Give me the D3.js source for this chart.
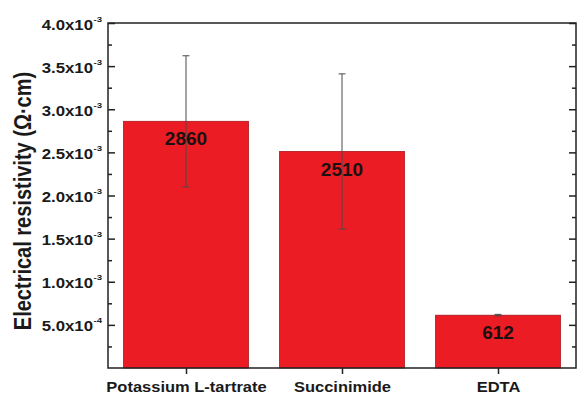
<!DOCTYPE html>
<html>
<head>
<meta charset="utf-8">
<script src="https://cdn.jsdelivr.net/npm/d3@7"></script>
<style>
  html, body { margin: 0; padding: 0; background: #fff; }
  svg { display: block; }
  text { font-family: "Liberation Sans", Arial, sans-serif; font-weight: bold; }
</style>
</head>
<body>
<svg id="chart" width="577" height="395"></svg>
<script>
// Resistivity per complexing agent (Ω·cm)
const categories = ["Potassium L-tartrate", "Succinimide", "EDTA"];
const resistivity = [2.86e-3, 2.51e-3, 0.612e-3];
const valueLabels = ["2860", "2510", "612"];
const errLow = [2.10e-3, 1.61e-3, 0.605e-3];
const errHigh = [3.62e-3, 3.41e-3, 0.622e-3];

// Y axis ticks: value, mantissa and exponent for the "m x10^e" labels
const yTicks = [5e-4, 1e-3, 1.5e-3, 2e-3, 2.5e-3, 3e-3, 3.5e-3, 4e-3];
const yMantissa = ["5.0", "1.0", "1.5", "2.0", "2.5", "3.0", "3.5", "4.0"];
const yExponent = ["-4", "-3", "-3", "-3", "-3", "-3", "-3", "-3"];
const yMinorTicks = [2.5e-4, 7.5e-4, 1.25e-3, 1.75e-3, 2.25e-3, 2.75e-3, 3.25e-3, 3.75e-3];

const yTitle = "Electrical resistivity (Ω·cm)";

const svg = d3.select("#chart");
const plotL = 108, plotR = 576, plotT = 23, plotB = 368;

const x = d3.scaleLinear().domain([0.5, 3.5]).range([plotL, plotR]);
const y = d3.scaleLinear().domain([0, 4e-3]).range([plotB, plotT]);
const barW = x(1.4) - x(0.6);

// Bars
svg.append("g").selectAll("rect")
  .data(resistivity)
  .join("rect")
  .attr("x", (d, i) => x(i + 1) - barW / 2)
  .attr("y", d => y(d))
  .attr("width", barW)
  .attr("height", d => y(0) - y(d))
  .attr("fill", "#ec1c24")
  .attr("stroke", "#a8131a")
  .attr("stroke-width", 0.8);

// Error bars
const eg = svg.append("g").attr("stroke", "#4a4a4a").attr("stroke-width", 1);
categories.forEach((c, i) => {
  const cx = x(i + 1);
  eg.append("line").attr("x1", cx).attr("x2", cx).attr("y1", y(errLow[i])).attr("y2", y(errHigh[i]));
  [errLow[i], errHigh[i]].forEach(v => {
    eg.append("line").attr("x1", cx - 3.5).attr("x2", cx + 3.5).attr("y1", y(v)).attr("y2", y(v));
  });
});

// Value labels inside the bars
svg.append("g").selectAll("text")
  .data(valueLabels)
  .join("text")
  .attr("x", (d, i) => x(i + 1))
  .attr("y", (d, i) => y(resistivity[i]) + 24)
  .attr("text-anchor", "middle")
  .attr("font-size", 19)
  .attr("fill", "#1c1010")
  .text(d => d);

// Inward ticks on the left and right frame edges
function yTicksAxis(axisFn, xPos, major, minor) {
  svg.append("g").attr("transform", `translate(${xPos},0)`)
    .call(axisFn(y).tickValues(yTicks).tickSize(major).tickFormat(""))
    .call(g => g.select(".domain").remove());
  svg.append("g").attr("transform", `translate(${xPos},0)`)
    .call(axisFn(y).tickValues(yMinorTicks).tickSize(minor).tickFormat(""))
    .call(g => g.select(".domain").remove());
}
yTicksAxis(d3.axisLeft, plotL, -7, -4);
yTicksAxis(d3.axisRight, plotR, -7, -4);
svg.selectAll(".tick line").attr("stroke", "#222").attr("stroke-width", 1.5);

// Bottom ticks at category centres with their names
const xAxis = svg.append("g").attr("transform", `translate(0,${plotB})`)
  .call(d3.axisBottom(x).tickValues([1, 2, 3]).tickSize(6).tickPadding(7)
    .tickFormat(d => categories[d - 1]));
xAxis.select(".domain").remove();
xAxis.selectAll(".tick line").attr("stroke", "#222").attr("stroke-width", 1.5);
xAxis.selectAll(".tick text")
  .attr("font-size", 15).attr("fill", "#1a1a1a")
  .attr("font-family", "Liberation Sans, Arial, sans-serif")
  .attr("font-weight", "bold")
  .attr("transform", "scale(1.1,1)");

// Frame
svg.append("rect")
  .attr("x", plotL).attr("y", plotT)
  .attr("width", plotR - plotL).attr("height", plotB - plotT)
  .attr("fill", "none").attr("stroke", "#222").attr("stroke-width", 1.5);

// Y tick labels "m.mx10" with superscript exponent
const lab = svg.append("g").selectAll("g")
  .data(yTicks)
  .join("g")
  .attr("transform", d => `translate(93,${y(d) + 6.5}) scale(1.2,1)`);
lab.append("text")
  .attr("text-anchor", "end")
  .attr("font-size", 14)
  .attr("fill", "#1a1a1a")
  .text((d, i) => yMantissa[i] + "x10");
lab.append("text")
  .attr("x", 0.5).attr("y", -8)
  .attr("font-size", 8)
  .attr("fill", "#1a1a1a")
  .text((d, i) => yExponent[i]);

// Y axis title
svg.append("text")
  .attr("transform", `translate(31,201) rotate(-90) scale(1,1.15)`)
  .attr("text-anchor", "middle")
  .attr("font-size", 20)
  .attr("fill", "#1a1a1a")
  .text(yTitle);
</script>
</body>
</html>
